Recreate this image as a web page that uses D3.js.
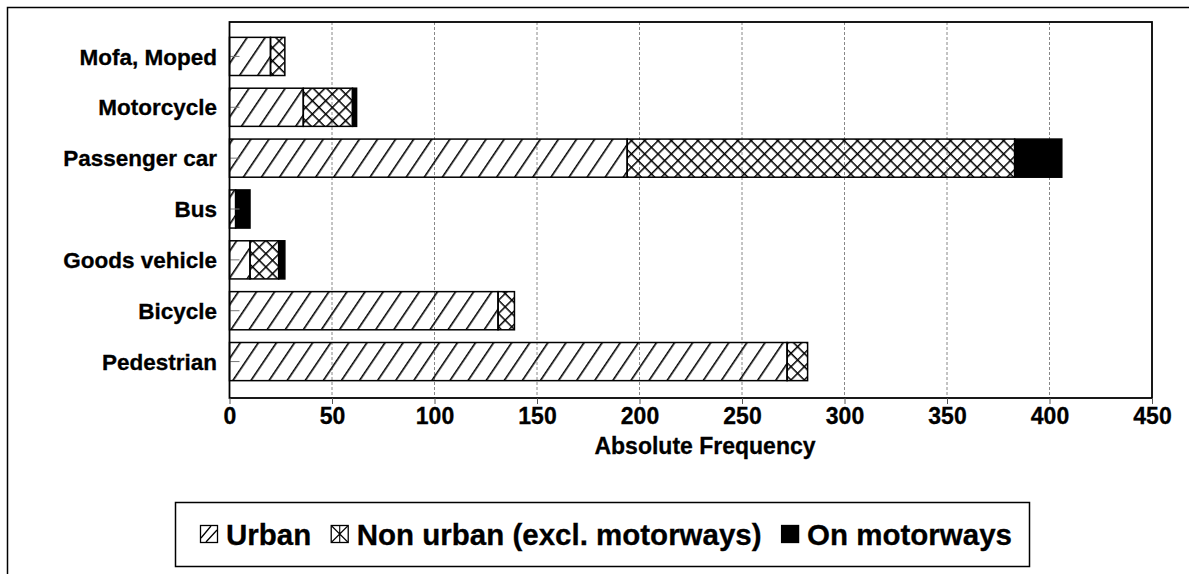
<!DOCTYPE html>
<html>
<head>
<meta charset="utf-8">
<script src="https://cdn.jsdelivr.net/npm/d3@7/dist/d3.min.js"></script>
<style>
  body { margin: 0; background: #fff; }
  text { font-family: "Liberation Sans", Arial, sans-serif; font-weight: bold; fill: #000; }
</style>
</head>
<body>
<svg id="chart" width="1189" height="574"></svg>
<script>
// Data
const categories = ["Mofa, Moped", "Motorcycle", "Passenger car", "Bus", "Goods vehicle", "Bicycle", "Pedestrian"];
const urban = [20, 36, 194, 3, 10, 131, 272];
const nonUrban = [7, 24, 189, 0, 14, 8, 10];
const motorways = [0, 2, 23, 7, 3, 0, 0];
const seriesKeys = ["urban", "nonUrban", "motorways"];
const seriesNames = ["Urban", "Non urban (excl. motorways)", "On motorways"];
const xTicks = [0, 50, 100, 150, 200, 250, 300, 350, 400, 450];
const xTitle = "Absolute Frequency";

const rows = categories.map((c, i) => ({
  cat: c, urban: urban[i], nonUrban: nonUrban[i], motorways: motorways[i]
}));

const svg = d3.select("#chart");

// outer frame of the scanned figure
svg.append("path")
  .attr("d", "M7.5,574 V7.5 H1189")
  .attr("fill", "none").attr("stroke", "#000").attr("stroke-width", 1.5);

// hatch patterns
const defs = svg.append("defs");
const pUrban = defs.append("pattern")
  .attr("id", "hatch-urban")
  .attr("patternUnits", "userSpaceOnUse")
  .attr("width", 15).attr("height", 15)
  .attr("patternTransform", "rotate(34)");
pUrban.append("line").attr("x1", 0).attr("y1", 0).attr("x2", 0).attr("y2", 15)
  .attr("stroke", "#000").attr("stroke-width", 3.2);

const pCross = defs.append("pattern")
  .attr("id", "hatch-cross")
  .attr("patternUnits", "userSpaceOnUse")
  .attr("width", 9.4).attr("height", 9.4)
  .attr("patternTransform", "rotate(45)");
pCross.append("line").attr("x1", 0).attr("y1", 0).attr("x2", 0).attr("y2", 9.4)
  .attr("stroke", "#000").attr("stroke-width", 3);
pCross.append("line").attr("x1", 0).attr("y1", 0).attr("x2", 9.4).attr("y2", 0)
  .attr("stroke", "#000").attr("stroke-width", 3);

const fills = { urban: "url(#hatch-urban)", nonUrban: "url(#hatch-cross)", motorways: "#000" };

// plot area
const plotLeft = 229.5, plotRight = 1152, plotTop = 22, plotBottom = 398;

const x = d3.scaleLinear().domain([0, 450]).range([plotLeft, plotRight]);
const y = d3.scaleBand().domain(categories).range([31, 387])
  .paddingInner(0.25).paddingOuter(0.125);

// gridlines
svg.append("g")
  .selectAll("line")
  .data(xTicks.filter(d => d > 0 && d < 450))
  .enter().append("line")
  .attr("x1", d => x(d)).attr("x2", d => x(d))
  .attr("y1", plotTop).attr("y2", plotBottom)
  .attr("stroke", "#888").attr("stroke-width", 1)
  .attr("stroke-dasharray", "3,2");

// stacked bars
const stack = d3.stack().keys(seriesKeys);
const stacked = stack(rows);

stacked.forEach(layer => {
  svg.append("g")
    .selectAll("rect")
    .data(layer.filter(d => d[1] - d[0] > 0))
    .enter().append("rect")
    .attr("x", d => x(d[0]))
    .attr("y", d => y(d.data.cat))
    .attr("width", d => x(d[1]) - x(d[0]))
    .attr("height", y.bandwidth())
    .attr("fill", fills[layer.key])
    .attr("stroke", "#000")
    .attr("stroke-width", 1.5);
});

// category axis ticks (inward, at band centres)
svg.append("g")
  .selectAll("line")
  .data(categories)
  .enter().append("line")
  .attr("x1", plotLeft).attr("x2", plotLeft + 10)
  .attr("y1", d => y(d) + y.bandwidth() / 2)
  .attr("y2", d => y(d) + y.bandwidth() / 2)
  .attr("stroke", "#777").attr("stroke-width", 1);

// plot frame
svg.append("rect")
  .attr("x", plotLeft).attr("y", plotTop)
  .attr("width", plotRight - plotLeft).attr("height", plotBottom - plotTop)
  .attr("fill", "none").attr("stroke", "#000").attr("stroke-width", 1.8);

// category labels
svg.append("g")
  .selectAll("text")
  .data(categories)
  .enter().append("text")
  .attr("x", 217)
  .attr("y", d => y(d) + y.bandwidth() / 2)
  .attr("dy", "0.36em")
  .attr("text-anchor", "end")
  .style("font-size", "22.5px")
  .style("stroke", "#000").style("stroke-width", 0.3)
  .text(d => d);

// x axis
const xAxis = d3.axisBottom(x).tickValues(xTicks).tickSize(6).tickPadding(4);
const gx = svg.append("g")
  .attr("transform", `translate(0,${plotBottom})`)
  .call(xAxis);
gx.select(".domain").remove();
gx.selectAll(".tick line").attr("stroke", "#555");
gx.selectAll(".tick text")
  .style("font-size", "23px")
  .style("font-family", "'Liberation Sans', Arial, sans-serif")
  .style("stroke", "#000").style("stroke-width", 0.3)
  .attr("fill", "#000");

svg.append("text")
  .attr("x", 705)
  .attr("y", 454)
  .attr("text-anchor", "middle")
  .style("font-size", "23px")
  .style("stroke", "#000").style("stroke-width", 0.3)
  .text(xTitle);

// legend
const legend = svg.append("g");
legend.append("rect")
  .attr("x", 175.5).attr("y", 502.5)
  .attr("width", 854).attr("height", 64)
  .attr("fill", "#fff").attr("stroke", "#000").attr("stroke-width", 1.5);

const legendStart = 200, legendEnd = 1012, iconSize = 18, iconGap = 8;
const items = seriesKeys.map((k, i) => {
  const g = legend.append("g");
  g.append("rect").attr("x", 0.5).attr("y", 0.5).attr("width", iconSize - 1).attr("height", iconSize - 1)
    .attr("fill", k === "motorways" ? "#000" : "#fff")
    .attr("stroke", "#000").attr("stroke-width", 1.3);
  if (k === "urban") {
    g.append("path").attr("d", "M1,13 L11,1 M6,17 L17,5").attr("stroke", "#000").attr("stroke-width", 1.3);
  } else if (k === "nonUrban") {
    g.append("path").attr("d", "M1,1 L17,17 M17,1 L1,17 M9,1 L9,17").attr("stroke", "#000").attr("stroke-width", 1.1);
  }
  const t = g.append("text")
    .attr("x", iconSize + iconGap).attr("y", iconSize / 2)
    .attr("dy", "0.36em")
    .style("font-size", "29.5px")
    .style("stroke", "#000").style("stroke-width", 0.3)
    .text(seriesNames[i]);
  return { g, w: iconSize + iconGap + t.node().getComputedTextLength() };
});
const totalW = d3.sum(items, d => d.w);
const itemGap = (legendEnd - legendStart - totalW) / (items.length - 1);
let cx = legendStart;
items.forEach(it => {
  it.g.attr("transform", `translate(${cx},${534 - iconSize / 2})`);
  cx += it.w + itemGap;
});
</script>
</body>
</html>
